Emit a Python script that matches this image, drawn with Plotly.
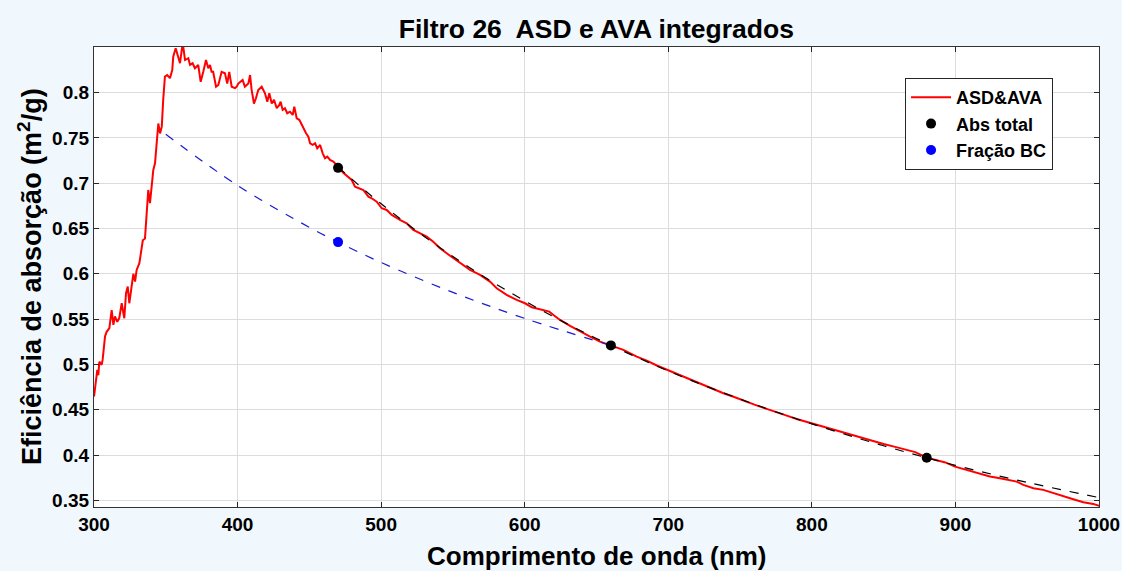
import plotly.graph_objects as go

# ---------------- data ----------------
wl_red = [300, 301.4, 302.3, 303.0, 303.7, 305.3, 306.0, 307.7, 308.8, 310.7, 312.3, 313.5, 314.6, 316.2,
          317.6, 319.3, 320.4, 321.1, 322.3, 323.5, 324.6, 326.3, 327.4, 328.6, 329.7, 331.6, 333.2, 334.0,
          335.5, 336.7, 337.8, 339.0, 340.2, 341.3, 342.5, 343.6, 344.8, 346.0, 347.2, 348.2, 349.4, 351.0,
          352.9, 354.5, 355.2, 356.9, 358.3, 359.9, 361.8, 363.4, 365.7, 366.9, 368.7, 370.3, 372.6, 374.3,
          376.1, 378.0, 379.6, 380.8, 381.9, 383.0, 385.0, 386.6, 388.9, 391.2, 392.8, 394.2, 395.9, 398.2,
          399.4, 400.5, 403.5, 405.1, 407.5, 408.7, 409.8, 411.4, 412.8, 414.4, 416.8, 419.1, 420.7, 422.1,
          423.8, 425.4, 427.3, 429.1, 430.0, 431.4, 433.0, 434.6, 436.5, 438.4, 439.5, 441.2, 443.0, 444.7,
          446.3, 447.7, 449.3, 450.5, 452.4, 454.0, 455.5, 457.5, 459.3, 460.9, 462.5, 464.4, 466.7, 468.6,
          470.0, 473.6, 477.1, 479.5, 481.8, 485.3, 487.6, 491.1, 493.4, 496.9, 500.4, 503.9, 507.4, 513.1,
          517.8, 522.4, 527.0, 531.7, 536.3, 541.0, 548.0, 554.9, 561.9, 568.9, 575.8, 580.5, 587.4, 594.4,
          600.2, 604.9, 610.7, 617.1, 620.0, 624.6, 631.6, 638.5, 645.5, 652.4, 660.0, 668.7, 678.0, 685.0,
          692.0, 700.0, 708.0, 715.0, 722.0, 730.0, 738.0, 745.0, 752.0, 760.0, 768.0, 775.0, 782.0, 790.0,
          798.0, 805.0, 812.0, 820.0, 828.0, 835.0, 842.0, 850.0, 858.0, 865.0, 872.0, 880.0, 888.0, 893.0,
          899.7, 907.8, 913.0, 917.1, 924.0, 931.0, 938.0, 942.7, 947.3, 954.3, 961.2, 968.2, 975.2, 982.1,
          989.1, 996.0, 1000.0]
eff_red = [0.4645, 0.4865, 0.494, 0.488, 0.503, 0.4995, 0.505, 0.531, 0.536, 0.540, 0.560, 0.5436, 0.553, 0.547,
           0.551, 0.5675, 0.558, 0.551, 0.5786, 0.586, 0.5675, 0.5896, 0.600, 0.5914, 0.6043, 0.6117, 0.6264, 0.637,
           0.639, 0.667, 0.6926, 0.678, 0.700, 0.7147, 0.722, 0.7478, 0.766, 0.755, 0.7625, 0.792, 0.8177, 0.8195,
           0.816, 0.825, 0.8397, 0.849, 0.8416, 0.8325, 0.855, 0.836, 0.838, 0.8306, 0.8325, 0.827, 0.8306, 0.812,
           0.823, 0.836, 0.827, 0.8306, 0.823, 0.823, 0.8066, 0.8085, 0.823, 0.8214, 0.810, 0.823, 0.8066, 0.805,
           0.8066, 0.810, 0.814, 0.8066, 0.810, 0.8195, 0.803, 0.788, 0.7938, 0.803, 0.8066, 0.7993, 0.790, 0.7993,
           0.788, 0.792, 0.7828, 0.7864, 0.790, 0.781, 0.7828, 0.7773, 0.779, 0.7754, 0.7845, 0.7717, 0.770, 0.7643,
           0.7607, 0.7552, 0.7514, 0.7441, 0.7423, 0.7441, 0.7386, 0.7423, 0.733, 0.7276, 0.7294, 0.7257, 0.7238, 0.720,
           0.7183, 0.7115, 0.7073, 0.7036, 0.6963, 0.6945, 0.6926, 0.6852, 0.6834, 0.6797, 0.6724, 0.6705, 0.665, 0.6595,
           0.6558, 0.6485, 0.6448, 0.641, 0.6355, 0.6283, 0.620, 0.6117, 0.6043, 0.5988, 0.5914, 0.5841, 0.5767, 0.5712,
           0.5675, 0.5631, 0.5609, 0.5583, 0.5546, 0.5491, 0.5425, 0.5362, 0.5307, 0.5252, 0.5208, 0.516, 0.5086, 0.5042,
           0.4988, 0.4935, 0.4878, 0.4836, 0.4784, 0.4738, 0.4685, 0.4646, 0.4601, 0.4556, 0.4512, 0.4478, 0.4438, 0.4395,
           0.4358, 0.4322, 0.4290, 0.4255, 0.4218, 0.4190, 0.4158, 0.4122, 0.4090, 0.4060, 0.4032, 0.3971, 0.3938, 0.3918,
           0.3872, 0.3836, 0.3818, 0.3800, 0.3762, 0.3744, 0.3725, 0.3706, 0.3670, 0.3634, 0.3615, 0.3578, 0.3549, 0.3512,
           0.3479, 0.3460, 0.3438]

wl_fit_total = [470, 500, 550, 600, 650, 700, 750, 800, 850, 900, 950, 1000]
eff_fit_total = [0.718, 0.6773, 0.619, 0.5701, 0.5286, 0.4928, 0.4617, 0.4344, 0.4102, 0.3886, 0.3698, 0.3530]

wl_fit_bc = [350, 400, 450, 470, 500, 550, 600, 660]
eff_fit_bc = [0.754, 0.6976, 0.6513, 0.635, 0.6125, 0.5795, 0.5508, 0.521]

wl_abs_total = [470, 660, 880]
eff_abs_total = [0.717, 0.521, 0.397]

wl_bc = [470]
eff_bc = [0.635]

x_ticks = [300, 400, 500, 600, 700, 800, 900, 1000]
y_ticks = [0.35, 0.4, 0.45, 0.5, 0.55, 0.6, 0.65, 0.7, 0.75, 0.8]
y_tick_text = ["0.35", "0.4", "0.45", "0.5", "0.55", "0.6", "0.65", "0.7", "0.75", "0.8"]

FONT = "Liberation Sans, Arial, sans-serif"

fig = go.Figure()
fig.add_trace(go.Scatter(x=wl_red, y=eff_red, mode="lines", name="ASD&AVA",
                         line=dict(color="#FF0000", width=2), legendgroup="a"))
fig.add_trace(go.Scatter(x=wl_fit_total, y=eff_fit_total, mode="lines", showlegend=False,
                         line=dict(color="#000000", width=1.2, dash="dash", shape="spline")))
fig.add_trace(go.Scatter(x=wl_fit_bc, y=eff_fit_bc, mode="lines", showlegend=False,
                         line=dict(color="#1A1ACC", width=1.2, dash="dash", shape="spline")))
fig.add_trace(go.Scatter(x=wl_abs_total, y=eff_abs_total, mode="markers", name="Abs total",
                         marker=dict(color="#000000", size=10), legendgroup="b"))
fig.add_trace(go.Scatter(x=wl_bc, y=eff_bc, mode="markers", name="Fração BC",
                         marker=dict(color="#0000FF", size=10), legendgroup="c"))

axis_common = dict(
    showline=True, linecolor="#333333", linewidth=1.2, mirror="ticks",
    ticks="inside", ticklen=5, tickcolor="#262626", tickwidth=1,
    showgrid=True, gridcolor="#DCDCDC", gridwidth=1, zeroline=False,
    tickfont=dict(family=FONT, size=19, color="#000000", weight="bold"),
)

fig.update_layout(
    width=1122, height=571,
    paper_bgcolor="#F0F8FD", plot_bgcolor="#FFFFFF",
    margin=dict(l=94, r=23, t=47, b=64, autoexpand=False),
    title=dict(text="Filtro 26  ASD e AVA integrados", x=0.5315, xanchor="center",
               y=1 - 29 / 571, yref="container", yanchor="middle",
               font=dict(family=FONT, size=26.5, color="#000000", weight="bold")),
    xaxis=dict(range=[300, 1000], tickvals=x_ticks, automargin=False, **axis_common),
    yaxis=dict(range=[0.3426, 0.8504], tickvals=y_ticks, ticktext=y_tick_text,
               automargin=False, **axis_common),
    legend=dict(x=0.807, y=0.9326, xanchor="left", yanchor="top",
                bgcolor="#FFFFFF", bordercolor="#262626", borderwidth=1,
                font=dict(family=FONT, size=18, color="#000000", weight="bold"),
                tracegroupgap=0, itemwidth=40),
    showlegend=True,
    annotations=[
        dict(text="Comprimento de onda (nm)", xref="paper", yref="paper",
             x=0.5, y=(507 - 556) / 460, xanchor="center", yanchor="middle", showarrow=False,
             font=dict(family=FONT, size=26, color="#000000", weight="bold")),
        dict(text="Eficiência de absorção (m<sup>2</sup>/g)", xref="paper", yref="paper",
             x=(30 - 94) / 1005, y=0.5, xanchor="center", yanchor="middle", showarrow=False,
             textangle=-90,
             font=dict(family=FONT, size=27, color="#000000", weight="bold")),
    ],
)

fig.write_html("out.html")
